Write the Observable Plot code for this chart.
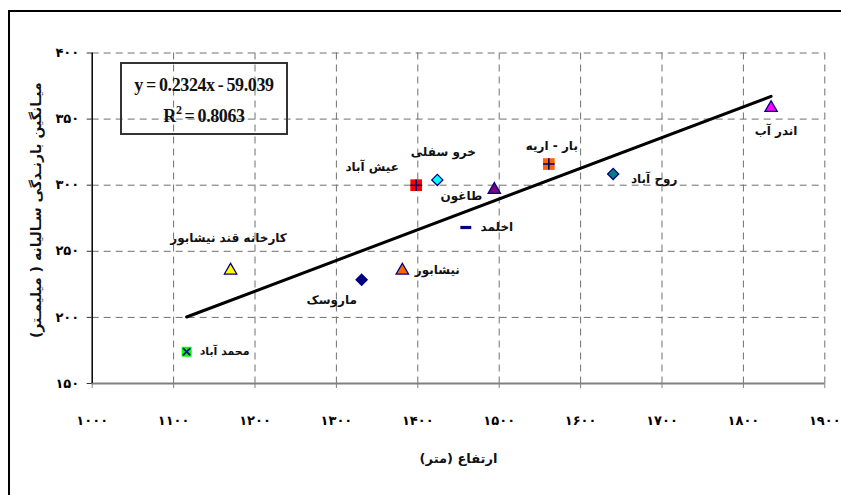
<!DOCTYPE html>
<html>
<head>
<meta charset="utf-8">
<script src="https://cdn.jsdelivr.net/npm/d3@7"></script>
<script src="https://cdn.jsdelivr.net/npm/@observablehq/plot@0.6"></script>
<style>
  html, body { margin: 0; padding: 0; background: #fff; overflow: hidden; }
  #wrap { position: relative; width: 841px; height: 495px; overflow: hidden; }
  #frame { position: absolute; left: 8px; top: 10px; width: 900px; height: 600px;
           border-left: 2px solid #000; border-top: 2px solid #000; }
  #eq { position: absolute; left: 120px; top: 62px; width: 164px; height: 69px;
        border: 2px solid #333; font-family: "Liberation Serif", "Times New Roman", serif;
        font-weight: bold; font-size: 18px; color: #111; text-align: center; }
  #eq .l1 { position: absolute; left: 0; right: 0; top: 11px; letter-spacing: -0.4px; word-spacing: -1px; }
  #eq .l2 { position: absolute; left: 0; right: 0; top: 42px; letter-spacing: -0.4px; word-spacing: -1px; }
  #eq sup { font-size: 12px; vertical-align: 8px; line-height: 0; }
  #chart { position: absolute; left: 0; top: 0; }
</style>
</head>
<body>
<div id="wrap">
  <div id="frame"></div>
  <div id="chart"></div>
  <div id="eq"><div class="l1">y = 0.2324x - 59.039</div><div class="l2">R<sup>2</sup> = 0.8063</div></div>
</div>
<script>
// ---- data ----
const stations = ["محمد آباد", "کارخانه قند نیشابور", "ماروسک", "نیشابور", "عیش آباد", "خرو سفلی", "طاغون", "اخلمد", "بار - اریه", "روح آباد", "اندر آب"];
const elevation = [1116, 1170, 1331, 1381, 1398, 1424, 1494, 1459, 1561, 1640, 1834];
const rainfall  = [174, 235.5, 228.5, 235.5, 300, 304, 296.5, 268, 316, 308.5, 358.5];
const slope = 0.2324;
const intercept = -59.039;
const xTicks = [1000, 1100, 1200, 1300, 1400, 1500, 1600, 1700, 1800, 1900];
const xTickLabels = ["۱۰۰۰", "۱۱۰۰", "۱۲۰۰", "۱۳۰۰", "۱۴۰۰", "۱۵۰۰", "۱۶۰۰", "۱۷۰۰", "۱۸۰۰", "۱۹۰۰"];
const yTicks = [150, 200, 250, 300, 350, 400];
const yTickLabels = ["۱۵۰", "۲۰۰", "۲۵۰", "۳۰۰", "۳۵۰", "۴۰۰"];
const xTitle = "ارتفاع (متر)";
const yTitle = "میـانگین بارنـدگی سـالیانه ( میلیمـتر)";

// ---- styles (per station) ----
const dash = { draw(ctx, size) { const w = Math.sqrt(size); ctx.rect(-w * 0.55, -1.6, w * 1.1, 3.2); } };
const markerStyle = [
  { symbol: "square",   fill: "#00ff00", stroke: "none", r: 5.6, over: "times" },
  { symbol: "triangle", fill: "#ffff00", stroke: "#000080", r: 4.6 },
  { symbol: "diamond2", fill: "#000080", stroke: "#000080", r: 5.0 },
  { symbol: "triangle", fill: "#ff6600", stroke: "#000080", r: 4.6 },
  { symbol: "square",   fill: "#ff0000", stroke: "none", r: 6.6, over: "plus" },
  { symbol: "diamond2", fill: "#00ffff", stroke: "#000080", r: 5.0 },
  { symbol: "triangle", fill: "#800080", stroke: "#000080", r: 4.6 },
  { symbol: dash,       fill: "#000080", stroke: "none", r: 5.6 },
  { symbol: "square",   fill: "#ff6600", stroke: "none", r: 6.6, over: "plus" },
  { symbol: "diamond2", fill: "#008080", stroke: "#000080", r: 5.0 },
  { symbol: "triangle", fill: "#ff00ff", stroke: "#000080", r: 4.6 }
];
// label offsets in pixels relative to the marker
const labelOffset = [
  { dx: 38, dy: 0, size: 11 },
  { dx: -2, dy: -32, size: 12 },
  { dx: -30, dy: 20, size: 12 },
  { dx: 35, dy: 0, size: 12 },
  { dx: -44, dy: -18, size: 12 },
  { dx: 6, dy: -28, size: 12 },
  { dx: -33, dy: 6, size: 12 },
  { dx: 31, dy: 0, size: 12 },
  { dx: 3, dy: -18, size: 12 },
  { dx: 41, dy: 5, size: 12 },
  { dx: 5, dy: 23, size: 12 }
];

const data = stations.map((name, i) => ({ name, x: elevation[i], y: rainfall[i], i }));
const x0 = d3.min(elevation), x1 = d3.max(elevation);
const trend = [x0, x1].map(x => ({ x, y: slope * x + intercept }));

const gridStyle = { stroke: "#707070", strokeOpacity: 1, strokeWidth: 1, strokeDasharray: "7,5" };

const marks = [
  Plot.gridX(xTicks.slice(1), gridStyle),
  Plot.gridY(yTicks.slice(1), gridStyle),
  Plot.ruleY([yTicks[0]], { stroke: "#808080", strokeWidth: 2 }),
  Plot.ruleX([xTicks[0]], { stroke: "#000", strokeWidth: 1.5 }),
  Plot.axisX(xTicks, { tickFormat: (d) => xTickLabels[xTicks.indexOf(d)], tickSize: 5, tickPadding: 27,
    stroke: "#808080", fontSize: 13, fontWeight: "bold", fill: "#000", label: null }),
  Plot.axisY(yTicks, { tickFormat: (d) => yTickLabels[yTicks.indexOf(d)], tickSize: 5, tickPadding: 8,
    stroke: "#333", fontSize: 13, fontWeight: "bold", fill: "#000", label: null }),
  Plot.line(trend, { x: "x", y: "y", stroke: "#000", strokeWidth: 3 })
];

data.forEach(d => {
  const s = markerStyle[d.i];
  marks.push(Plot.dot([d], { x: "x", y: "y", symbol: s.symbol, r: s.r, fill: s.fill,
    stroke: s.stroke, strokeWidth: 1.3 }));
  if (s.over) {
    marks.push(Plot.dot([d], { x: "x", y: "y", symbol: s.over, r: s.over === "plus" ? 3.8 : 3.4,
      stroke: "#000080", strokeWidth: 1.6, fill: "none" }));
  }
  const o = labelOffset[d.i];
  marks.push(Plot.text([d], { x: "x", y: "y", text: "name", dx: o.dx, dy: o.dy, fontSize: o.size,
    fontWeight: "bold", fill: "#111", textAnchor: "middle" }));
});

marks.push(Plot.text([xTitle], { frameAnchor: "bottom", dy: 79, fontSize: 13, fontWeight: "bold", fill: "#111", textAnchor: "middle" }));
marks.push(Plot.text([yTitle], { frameAnchor: "left", dx: -56, dy: -8, rotate: -90, fontSize: 14, fontWeight: "bold", fill: "#111", textAnchor: "middle" }));

const chart = Plot.plot({
  width: 841,
  height: 495,
  marginLeft: 91.7,
  marginRight: 16.7,
  marginTop: 52.5,
  marginBottom: 112,
  x: { domain: [1000, 1900] },
  y: { domain: [150, 400] },
  style: { fontFamily: "'DejaVu Sans', sans-serif", background: "transparent", overflow: "visible" },
  marks
});
document.getElementById("chart").appendChild(chart);
</script>
</body>
</html>
